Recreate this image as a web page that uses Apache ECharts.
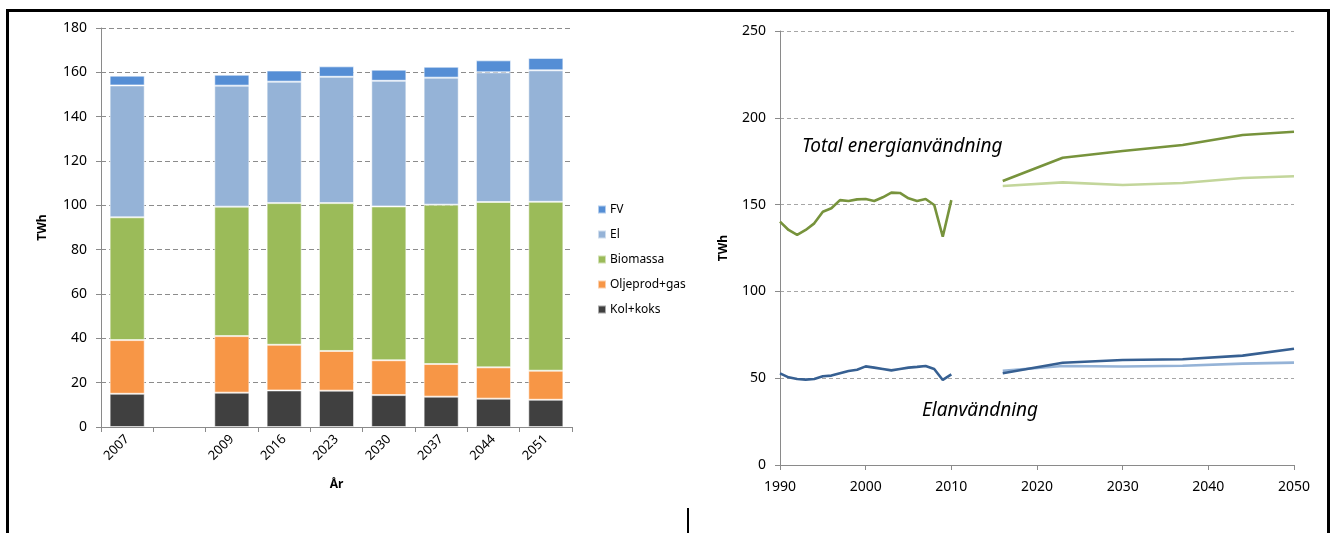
<!DOCTYPE html>
<html>
<head>
<meta charset="utf-8">
<script src="https://cdn.jsdelivr.net/npm/echarts@6/dist/echarts.min.js"></script>
<style>
html,body{margin:0;padding:0;background:#fff;}
#chart{width:1336px;height:533px;}
</style>
</head>
<body>
<div id="chart"></div>
<script>
// ---- Left chart: stacked bars (TWh) ----
const barCategories = ['2007', '', '2009', '2016', '2023', '2030', '2037', '2044', '2051'];
const kolKoks     = [15.0, null, 15.5, 16.5, 16.4, 14.4, 13.7, 12.8, 12.3];
const oljeprodGas = [24.2, null, 25.5, 20.6, 17.9, 15.7, 14.7, 14.1, 13.1];
const biomassa    = [55.4, null, 58.4, 63.9, 66.7, 69.4, 71.9, 74.6, 76.2];
const el          = [59.5, null, 54.6, 54.8, 57.0, 56.7, 57.3, 58.5, 59.3];
const fv          = [4.4,  null, 4.9,  5.0,  4.7,  5.0,  4.9,  5.4,  5.6];
const barYTicks = {min: 0, max: 180, interval: 20};

// ---- Right chart: lines (TWh) ----
const histYears = [1990,1991,1992,1993,1994,1995,1996,1997,1998,1999,2000,2001,2002,2003,2004,2005,2006,2007,2008,2009,2010];
const totalHist = [140.2,135.4,132.5,135.4,139.2,145.9,147.9,152.6,152.1,153.0,153.2,152.1,154.2,156.9,156.7,153.6,152.1,153.2,149.8,131.5,152.6];
const elHist    = [52.8,50.5,49.5,49.2,49.5,51.1,51.5,52.8,54.1,54.9,56.8,56.1,55.3,54.5,55.3,56.1,56.5,57.0,55.3,49.0,52.2];
const projYears = [2016, 2023, 2030, 2037, 2044, 2050];
const totalProjHigh = [163.6, 177.0, 180.9, 184.3, 190.1, 192.0];
const totalProjLow  = [160.7, 162.8, 161.3, 162.4, 165.3, 166.3];
const elProjHigh    = [52.8, 58.9, 60.5, 60.9, 63.0, 67.0];
const elProjLow     = [54.3, 57.0, 56.7, 57.2, 58.4, 59.0];

const FONT = '"Noto Sans", "Open Sans", sans-serif';
const pair = (xs, ys) => xs.map((x, i) => [x, ys[i]]);

const chart = echarts.init(document.getElementById('chart'), null, {renderer: 'canvas'});

function barSeries(name, data, color) {
  return {
    name, type: 'bar', stack: 'total', data,
    xAxisIndex: 0, yAxisIndex: 0,
    barCategoryGap: '33%',
    itemStyle: {color, borderColor: 'rgba(255,255,255,0.55)', borderWidth: 1},
    emphasis: {disabled: true}
  };
}
function lineSeries(name, data, color) {
  return {
    name, type: 'line', data, xAxisIndex: 1, yAxisIndex: 1,
    showSymbol: false, symbol: 'none', smooth: false, clip: true,
    lineStyle: {color, width: 2.6},
    emphasis: {disabled: true}
  };
}

const option = {
  animation: false,
  backgroundColor: '#ffffff',
  textStyle: {fontFamily: FONT},
  legend: {
    show: true,
    orient: 'vertical',
    left: 592, top: 196,
    itemWidth: 8, itemHeight: 8, itemGap: 8,
    icon: 'rect',
    data: ['FV', 'El', 'Biomassa', 'Oljeprod+gas', 'Kol+koks'],
    textStyle: {fontFamily: FONT, fontSize: 12, color: '#000', lineHeight: 17, padding: [0, 0, 0, -1]},
    selectedMode: false
  },
  grid: [
    {left: 101, top: 28, width: 471, height: 399, containLabel: false},
    {left: 780, top: 31, width: 514, height: 434, containLabel: false}
  ],
  xAxis: [
    {
      type: 'category', gridIndex: 0, data: barCategories,
      name: 'År', nameLocation: 'middle', nameGap: 52,
      nameTextStyle: {fontFamily: FONT, fontSize: 12, fontWeight: 'bold', color: '#000'},
      axisLine: {lineStyle: {color: '#8a8a8a', width: 1}},
      axisTick: {show: true, length: 5, lineStyle: {color: '#8a8a8a'}},
      axisLabel: {rotate: 45, fontSize: 13, color: '#000', fontFamily: FONT, margin: 10, interval: 0},
      splitLine: {show: false}
    },
    {
      type: 'value', gridIndex: 1, min: 1990, max: 2050, interval: 10,
      axisLine: {show: true, lineStyle: {color: '#8a8a8a', width: 1}},
      axisTick: {show: true, length: 5, lineStyle: {color: '#8a8a8a'}},
      axisLabel: {fontSize: 14, color: '#000', fontFamily: FONT, margin: 15, formatter: v => String(v)},
      splitLine: {show: false}
    }
  ],
  yAxis: [
    {
      type: 'value', gridIndex: 0, min: barYTicks.min, max: barYTicks.max, interval: barYTicks.interval,
      name: 'TWh', nameLocation: 'middle', nameGap: 52,
      nameTextStyle: {fontFamily: FONT, fontSize: 12, fontWeight: 'bold', color: '#000'},
      axisLine: {show: true, lineStyle: {color: '#8a8a8a', width: 1}},
      axisTick: {show: true, length: 5, lineStyle: {color: '#8a8a8a'}},
      axisLabel: {fontSize: 14, color: '#000', fontFamily: FONT, margin: 14},
      splitLine: {show: true, lineStyle: {color: '#8c8c8c', type: [5, 3], width: 1}}
    },
    {
      type: 'value', gridIndex: 1, min: 0, max: 250, interval: 50,
      name: 'TWh', nameLocation: 'middle', nameGap: 50,
      nameTextStyle: {fontFamily: FONT, fontSize: 12, fontWeight: 'bold', color: '#000'},
      axisLine: {show: true, lineStyle: {color: '#8a8a8a', width: 1}},
      axisTick: {show: true, length: 5, lineStyle: {color: '#8a8a8a'}},
      axisLabel: {fontSize: 14, color: '#000', fontFamily: FONT, margin: 14},
      splitLine: {show: true, lineStyle: {color: '#a6a6a6', type: [4, 3], width: 1}}
    }
  ],
  series: [
    barSeries('Kol+koks', kolKoks, '#404040'),
    barSeries('Oljeprod+gas', oljeprodGas, '#F79646'),
    barSeries('Biomassa', biomassa, '#9BBB59'),
    barSeries('El', el, '#95B3D7'),
    barSeries('FV', fv, '#558ED5'),
    lineSeries('Total historisk', pair(histYears, totalHist), '#77933C'),
    lineSeries('Total låg', pair(projYears, totalProjLow), '#C3D69B'),
    lineSeries('Total hög', pair(projYears, totalProjHigh), '#77933C'),
    lineSeries('El historisk', pair(histYears, elHist), '#376092'),
    lineSeries('El låg', pair(projYears, elProjLow), '#95B3D7'),
    lineSeries('El hög', pair(projYears, elProjHigh), '#376092')
  ],
  graphic: [
    {type: 'line', shape: {x1: 6, y1: 10.5, x2: 1330, y2: 10.5}, style: {stroke: '#000', lineWidth: 3}, silent: true},
    {type: 'line', shape: {x1: 7.5, y1: 9, x2: 7.5, y2: 533}, style: {stroke: '#000', lineWidth: 3}, silent: true},
    {type: 'line', shape: {x1: 1328.5, y1: 9, x2: 1328.5, y2: 533}, style: {stroke: '#000', lineWidth: 3}, silent: true},
    {type: 'line', shape: {x1: 688, y1: 508, x2: 688, y2: 533}, style: {stroke: '#000', lineWidth: 2}, silent: true},
    {type: 'text', left: 802, top: 137, silent: true,
     style: {text: 'Total energianvändning', font: 'italic 19px ' + FONT, fill: '#000'}},
    {type: 'text', left: 922, top: 401, silent: true,
     style: {text: 'Elanvändning', font: 'italic 19px ' + FONT, fill: '#000'}}
  ]
};
chart.setOption(option);
</script>
</body>
</html>
